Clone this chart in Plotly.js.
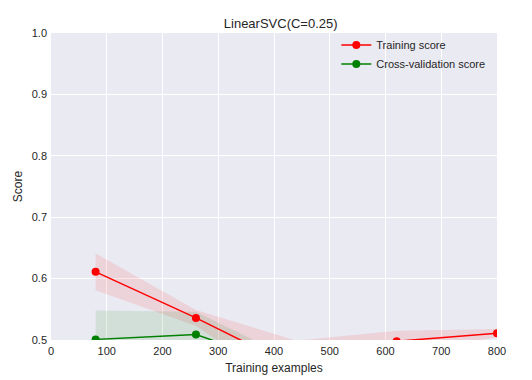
<!DOCTYPE html>
<html><head><meta charset="utf-8">
<script src="https://cdn.plot.ly/plotly-3.0.1.min.js"></script>
<style>html,body{margin:0;padding:0;background:#fff}#chart{width:532px;height:380px}</style>
</head><body><div id="chart"></div>
<script>
const trainSizes = [80, 260, 440, 620, 800];
const trainMean = [0.611, 0.536, 0.455, 0.498, 0.511];
const trainUpper = [0.641, 0.549, 0.499, 0.515, 0.518];
const trainLower = [0.581, 0.523, 0.411, 0.481, 0.504];
const cvMean = [0.501, 0.509, 0.452, 0.462, 0.470];
const cvUpper = [0.548, 0.546, 0.466, 0.480, 0.485];
const cvLower = [0.454, 0.472, 0.438, 0.444, 0.455];

const font = "Liberation Sans, Arial, sans-serif";
const traces = [
  {x: trainSizes, y: trainLower, mode: 'lines', line: {width: 0, color: 'rgba(0,0,0,0)'}, showlegend: false, hoverinfo: 'skip'},
  {x: trainSizes, y: trainUpper, mode: 'lines', line: {width: 0, color: 'rgba(0,0,0,0)'}, fill: 'tonexty', fillcolor: 'rgba(255,0,0,0.1)', showlegend: false, hoverinfo: 'skip'},
  {x: trainSizes, y: cvLower, mode: 'lines', line: {width: 0, color: 'rgba(0,0,0,0)'}, showlegend: false, hoverinfo: 'skip'},
  {x: trainSizes, y: cvUpper, mode: 'lines', line: {width: 0, color: 'rgba(0,0,0,0)'}, fill: 'tonexty', fillcolor: 'rgba(0,128,0,0.1)', showlegend: false, hoverinfo: 'skip'},
  {x: trainSizes, y: trainMean, mode: 'lines+markers', name: 'Training score', line: {color: '#ff0000', width: 1.5}, marker: {color: '#ff0000', size: 8}},
  {x: trainSizes, y: cvMean, mode: 'lines+markers', name: 'Cross-validation score', line: {color: '#008000', width: 1.5}, marker: {color: '#008000', size: 8}}
];
const layout = {
  width: 532, height: 380,
  margin: {l: 51, r: 35, t: 33, b: 40},
  paper_bgcolor: '#ffffff', plot_bgcolor: '#EAEAF2',
  font: {family: font, size: 11, color: '#262626'},
  title: {text: 'LinearSVC(C=0.25)', font: {family: font, size: 13, color: '#262626'}, x: 0.515, xanchor: 'center', xref: 'paper', y: 0.939, yanchor: 'middle'},
  xaxis: {range: [0, 800], tickvals: [0,100,200,300,400,500,600,700,800], gridcolor: '#ffffff', gridwidth: 1, zeroline: false, showline: false, ticks: '', tickfont: {size: 11}, ticklabelstandoff: 3,
          title: {text: 'Training examples', font: {size: 12}, standoff: 7}},
  yaxis: {range: [0.5, 1.0], tickvals: [0.5,0.6,0.7,0.8,0.9,1.0], tickformat: '.1f', gridcolor: '#ffffff', gridwidth: 1, zeroline: false, showline: false, ticks: '', tickfont: {size: 11}, ticklabelstandoff: 3,
          title: {text: 'Score', font: {size: 12}, standoff: 6}},
  legend: {x: 0.985, y: 1.008, xanchor: 'right', yanchor: 'top', bgcolor: 'rgba(0,0,0,0)', font: {size: 11}, traceorder: 'normal', tracegroupgap: 0, itemwidth: 30},
  showlegend: true
};
Plotly.newPlot('chart', traces, layout, {displayModeBar: false, staticPlot: true});
</script></body></html>
